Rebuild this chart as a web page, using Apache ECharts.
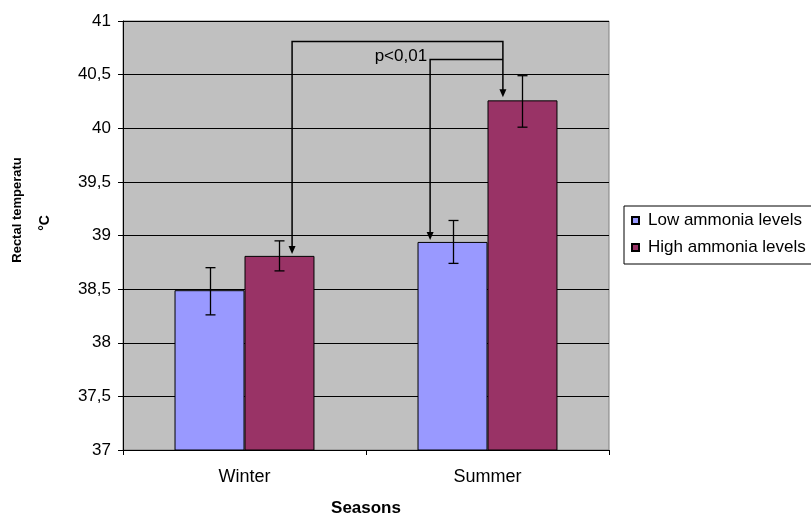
<!DOCTYPE html>
<html>
<head>
<meta charset="utf-8">
<script src="https://cdn.jsdelivr.net/npm/echarts@6/dist/echarts.min.js"></script>
<style>html,body{margin:0;padding:0;background:#fff;overflow:hidden;}#c{width:811px;height:513px;}</style>
</head>
<body>
<div id="c"></div>
<script>
const categories = ['Winter', 'Summer'];
const seriesNames = ['Low ammonia levels', 'High ammonia levels'];
const lowValues = [38.49, 38.94];
const highValues = [38.81, 40.26];
const lowErrUpper = [38.70, 39.14];
const lowErrLower = [38.26, 38.74];
const highErrUpper = [38.95, 40.49];
const highErrLower = [38.67, 40.01];
const yMin = 37, yMax = 41, yStep = 0.5;
const pLabel = 'p<0,01';
const outerBracketLevel = 40.81;
const innerBracketLevel = 40.64;

const FONT = "'Liberation Sans', Arial, sans-serif";
const GAP = 0.424;
const chart = echarts.init(document.getElementById('c'), null, {renderer: 'canvas', width: 811, height: 513});

const errData = [];
for (let i = 0; i < categories.length; i++) {
  errData.push([i, lowErrLower[i], lowErrUpper[i], -1]);
  errData.push([i, highErrLower[i], highErrUpper[i], 1]);
}

chart.setOption({
  animation: false,
  textStyle: {fontFamily: FONT},
  grid: {left: 123, top: 21, width: 486, height: 429, containLabel: false, outerBoundsMode: 'none',
    show: true, backgroundColor: '#C0C0C0', borderColor: '#808080', borderWidth: 1},
  legend: {
    data: seriesNames, orient: 'vertical', left: 624, top: 206,
    padding: [6, 30, 8, 7], itemWidth: 7, itemHeight: 7, itemGap: 10,
    borderColor: '#000', borderWidth: 1, borderRadius: 0, icon: 'rect',
    textStyle: {fontSize: 17, color: '#000', fontFamily: FONT, padding: [0, 0, 0, 4]}
  },
  xAxis: {
    type: 'category', data: categories,
    axisLine: {lineStyle: {color: '#000', width: 1}},
    axisTick: {show: true, length: 5, lineStyle: {color: '#000'}},
    axisLabel: {color: '#000', fontSize: 18, margin: 18, fontFamily: FONT},
    name: 'Seasons', nameLocation: 'middle', nameGap: 50,
    nameTextStyle: {color: '#000', fontSize: 17, fontWeight: 'bold', fontFamily: FONT}
  },
  yAxis: {
    type: 'value', min: yMin, max: yMax, interval: yStep,
    axisLine: {show: true, lineStyle: {color: '#000', width: 1}},
    axisTick: {show: true, length: 5, lineStyle: {color: '#000'}},
    splitLine: {show: true, lineStyle: {color: '#000', width: 1}},
    axisLabel: {color: '#000', fontSize: 17, margin: 12, fontFamily: FONT,
      formatter: v => String(v).replace('.', ',')}
  },
  series: [
    {name: seriesNames[0], type: 'bar', data: lowValues, barGap: '0%', barCategoryGap: (GAP * 100) + '%',
      itemStyle: {color: '#9999FF', borderColor: '#000', borderWidth: 1}},
    {name: seriesNames[1], type: 'bar', data: highValues, barGap: '0%', barCategoryGap: (GAP * 100) + '%',
      itemStyle: {color: '#993366', borderColor: '#000', borderWidth: 1}},
    {type: 'custom', data: errData, encode: {x: 0, y: [1, 2]}, z: 5, silent: true,
      renderItem: function (params, api) {
        const cat = api.value(0);
        const lo = api.coord([cat, api.value(1)]);
        const hi = api.coord([cat, api.value(2)]);
        const catW = api.size([1, 0])[0];
        const barW = catW * (1 - GAP) / 2;
        const x = Math.round(lo[0] + api.value(3) * barW / 2) + 0.5;
        const cap = 5;
        const st = {stroke: '#000', lineWidth: 1.3};
        return {type: 'group', children: [
          {type: 'line', shape: {x1: x, y1: hi[1], x2: x, y2: lo[1]}, style: st},
          {type: 'line', shape: {x1: x - cap, y1: hi[1], x2: x + cap, y2: hi[1]}, style: st},
          {type: 'line', shape: {x1: x - cap, y1: lo[1], x2: x + cap, y2: lo[1]}, style: st}
        ]};
      }}
  ]
});

// Annotation brackets placed through the chart's own scales
function px(cat, val) { return chart.convertToPixel({gridIndex: 0}, [cat, val]); }
const c0 = px(0, yMin), c1 = px(1, yMin);
const catW = c1[0] - c0[0];
const barW = catW * (1 - GAP) / 2;
function barX(cat, side, frac) { return px(cat, yMin)[0] + side * barW / 2 + frac * barW; }

const xWinterHigh = barX(0, 1, 0.18);
const xSummerHigh = barX(1, 1, -0.28);
const xSummerLow = barX(1, -1, -0.32);
const yOuter = px(0, outerBracketLevel)[1];
const yInner = px(0, innerBracketLevel)[1];
const tipWH = px(0, highValues[0])[1] - 2;
const tipSH = px(1, highValues[1])[1] - 3;
const tipSL = px(1, lowValues[1])[1] - 2;

const ls = {stroke: '#000', lineWidth: 1.5, fill: null};
function arrow(x, tip) {
  return {type: 'polygon', shape: {points: [[x - 3.5, tip - 8], [x + 3.5, tip - 8], [x, tip]]}, style: {fill: '#000'}, z: 20};
}
const yAxisNameX1 = 17, yAxisNameX2 = 45;
chart.setOption({graphic: [
  {type: 'polyline', shape: {points: [[xWinterHigh, tipWH - 6], [xWinterHigh, yOuter], [xSummerHigh, yOuter], [xSummerHigh, tipSH - 6]]}, style: ls, z: 20},
  {type: 'polyline', shape: {points: [[xSummerLow, tipSL - 6], [xSummerLow, yInner], [xSummerHigh, yInner]]}, style: ls, z: 20},
  arrow(xWinterHigh, tipWH), arrow(xSummerHigh, tipSH), arrow(xSummerLow, tipSL),
  {type: 'text', x: xSummerLow - 3, y: yInner - 3, z: 20,
    style: {text: pLabel, fill: '#000', font: '17px ' + FONT, textAlign: 'right', textVerticalAlign: 'middle'}},
  {type: 'text', x: yAxisNameX1, y: 210, rotation: Math.PI / 2, z: 20,
    style: {text: 'Rectal temperatu', fill: '#000', font: 'bold 13px ' + FONT, textAlign: 'center', textVerticalAlign: 'middle'}},
  {type: 'text', x: yAxisNameX2, y: 223, rotation: Math.PI / 2, z: 20,
    style: {text: '°C', fill: '#000', font: 'bold 14px ' + FONT, textAlign: 'center', textVerticalAlign: 'middle'}}
]});
</script>
</body>
</html>
